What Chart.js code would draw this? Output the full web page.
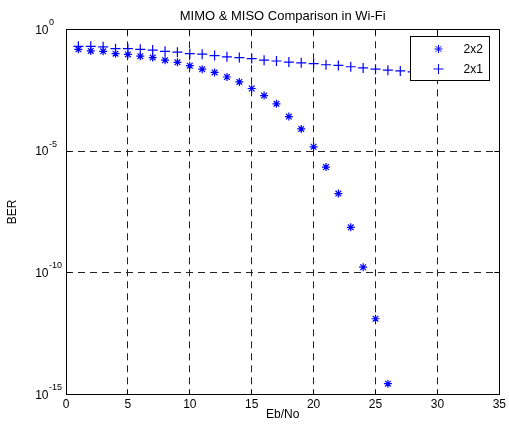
<!DOCTYPE html>
<html>
<head>
<meta charset="utf-8">
<title>MIMO &amp; MISO Comparison in Wi-Fi</title>
<script src="https://cdn.jsdelivr.net/npm/chart.js@4.4.1/dist/chart.umd.min.js"></script>
<style>
  html, body { margin: 0; padding: 0; background: #fff; }
  #wrap { position: relative; width: 509px; height: 427px; }
</style>
</head>
<body>
<div id="wrap"><canvas id="ber-chart"></canvas></div>
<script>
(function () {
  'use strict';

  var FONT = "'Liberation Sans', Arial, sans-serif";

  // --- Data ---
  var ebno = [1, 2, 3, 4, 5, 6, 7, 8, 9, 10, 11, 12, 13, 14, 15,
              16, 17, 18, 19, 20, 21, 22, 23, 24, 25, 26, 27, 28, 29, 30];
  var ber2x2 = [1.5e-1, 1.3e-1, 1.25e-1, 1.0e-1, 9.3e-2, 7.9e-2, 6.9e-2, 5.4e-2, 4.4e-2, 3.2e-2,
                2.3e-2, 1.7e-2, 1.1e-2, 6.9e-3, 3.7e-3, 1.9e-3, 8.7e-4, 2.6e-4, 8.1e-5, 1.5e-5,
                2.2e-6, 1.8e-7, 7.4e-9, 1.7e-10, 1.3e-12, 2.8e-15];
  var ber2x1 = [2.0e-1, 2.0e-1, 1.9e-1, 1.6e-1, 1.6e-1, 1.5e-1, 1.4e-1, 1.25e-1, 1.15e-1, 1.0e-1,
                9.5e-2, 8.3e-2, 7.4e-2, 6.9e-2, 6.3e-2, 5.4e-2, 5.0e-2, 4.5e-2, 4.2e-2, 3.9e-2,
                3.5e-2, 3.3e-2, 2.9e-2, 2.6e-2, 2.3e-2, 2.1e-2, 1.95e-2, 1.8e-2, 1.7e-2, 1.6e-2];
  var seriesNames = ['2x2', '2x1'];
  var xTicks = [0, 5, 10, 15, 20, 25, 30, 35];
  var yTicks = [1e-15, 1e-10, 1e-5, 1];
  var yTickExp = ['-15', '-10', '-5', '0'];

  var BLUE = '#0000ff';

  function toPoints(ys) {
    return ys.map(function (y, i) { return { x: ebno[i], y: y }; });
  }

  function align(v) { return Math.round(v - 0.5) + 0.5; }

  function drawMarker(ctx, style, x, y, r) {
    ctx.beginPath();
    ctx.moveTo(x - r, y); ctx.lineTo(x + r, y);
    ctx.moveTo(x, y - r); ctx.lineTo(x, y + r);
    if (style === 'star') {
      var d = r * Math.SQRT1_2;
      ctx.moveTo(x - d, y - d); ctx.lineTo(x + d, y + d);
      ctx.moveTo(x - d, y + d); ctx.lineTo(x + d, y - d);
    }
    ctx.stroke();
  }

  // --- MATLAB-like frame, inward ticks, legend, log labels ---
  var matlabFrame = {
    id: 'matlabFrame',
    afterDatasetsDraw: function (chart) {
      var ctx = chart.ctx, a = chart.chartArea;
      var xs = chart.scales.x, ys = chart.scales.y;
      ctx.save();
      ctx.strokeStyle = '#000';
      ctx.lineWidth = 1;
      ctx.setLineDash([]);

      ctx.beginPath();
      xTicks.forEach(function (v) {
        var px = align(xs.getPixelForValue(v));
        ctx.moveTo(px, a.bottom); ctx.lineTo(px, a.bottom - 5);
        ctx.moveTo(px, a.top); ctx.lineTo(px, a.top + 5);
      });
      yTicks.forEach(function (v) {
        var py = align(ys.getPixelForValue(v));
        ctx.moveTo(a.left, py); ctx.lineTo(a.left + 5, py);
        ctx.moveTo(a.right, py); ctx.lineTo(a.right - 5, py);
      });
      ctx.stroke();

      var l = align(a.left), t = align(a.top), r = align(a.right), b = align(a.bottom);
      ctx.strokeRect(l, t, r - l, b - t);

      // legend box (opaque, top right inside axes)
      var lw = 79, lh = 44;
      var lx = align(a.right - 10 - lw), ly = align(a.top + 7.5);
      ctx.fillStyle = '#fff';
      ctx.fillRect(lx, ly, lw, lh);
      ctx.strokeRect(lx, ly, lw, lh);

      ctx.strokeStyle = BLUE;
      drawMarker(ctx, 'star', lx + 28, ly + 12.5, 4);
      drawMarker(ctx, 'cross', lx + 28, ly + 32.5, 5);

      ctx.fillStyle = '#000';
      ctx.font = '12px ' + FONT;
      ctx.textAlign = 'left';
      ctx.textBaseline = 'middle';
      ctx.fillText(seriesNames[0], lx + 53, ly + 13);
      ctx.fillText(seriesNames[1], lx + 53, ly + 33);
      ctx.restore();
    },
    afterDraw: function (chart) {
      var ctx = chart.ctx, a = chart.chartArea, ys = chart.scales.y;
      ctx.save();
      ctx.fillStyle = '#000';
      ctx.textBaseline = 'middle';

      yTicks.forEach(function (v, i) {
        var py = ys.getPixelForValue(v);
        ctx.font = '12px ' + FONT;
        ctx.textAlign = 'right';
        ctx.fillText('10', a.left - 17.5, py + 1);
        ctx.font = '9px ' + FONT;
        ctx.textAlign = 'left';
        ctx.fillText(yTickExp[i], a.left - 17, py - 7);
      });

      ctx.font = '12px ' + FONT;
      ctx.textAlign = 'center';
      ctx.fillText('Eb/No', (a.left + a.right) / 2, a.bottom + 20);

      ctx.translate(13, (a.top + a.bottom) / 2);
      ctx.rotate(-Math.PI / 2);
      ctx.fillText('BER', 0, 0);
      ctx.restore();
    }
  };

  var ctx = document.getElementById('ber-chart');

  new Chart(ctx, {
    type: 'scatter',
    data: {
      datasets: [
        {
          label: seriesNames[0],
          data: toPoints(ber2x2),
          pointStyle: 'star',
          pointRadius: 4,
          pointHoverRadius: 4,
          borderColor: BLUE,
          backgroundColor: BLUE,
          borderWidth: 1.2,
          showLine: false
        },
        {
          label: seriesNames[1],
          data: toPoints(ber2x1),
          pointStyle: 'cross',
          pointRadius: 5,
          pointHoverRadius: 5,
          borderColor: BLUE,
          backgroundColor: BLUE,
          borderWidth: 1.2,
          showLine: false
        }
      ]
    },
    options: {
      responsive: true,
      maintainAspectRatio: false,
      animation: false,
      events: [],
      layout: { padding: { left: 66, right: 7, top: 0, bottom: 12 } },
      plugins: {
        legend: { display: false },
        tooltip: { enabled: false },
        title: {
          display: true,
          fullSize: false,
          text: 'MIMO & MISO Comparison in Wi-Fi',
          color: '#000',
          font: { family: FONT, size: 13, weight: 'normal', lineHeight: 1.2 },
          padding: { top: 8.3, bottom: 5.4 }
        }
      },
      scales: {
        x: {
          type: 'linear',
          min: 0,
          max: 35,
          afterBuildTicks: function (scale) {
            scale.ticks = xTicks.map(function (v) { return { value: v }; });
          },
          ticks: {
            color: '#000',
            padding: 3,
            maxRotation: 0,
            font: { family: FONT, size: 12, lineHeight: 1.2 }
          },
          grid: { color: '#222', lineWidth: 1, drawTicks: false },
          border: { display: false, dash: [7, 5] }
        },
        y: {
          type: 'logarithmic',
          min: 1e-15,
          max: 1,
          afterBuildTicks: function (scale) {
            scale.ticks = yTicks.map(function (v) { return { value: v }; });
          },
          ticks: { display: false },
          grid: { color: '#222', lineWidth: 1, drawTicks: false },
          border: { display: false, dash: [7, 5] }
        }
      }
    },
    plugins: [matlabFrame]
  });
})();
</script>
</body>
</html>
